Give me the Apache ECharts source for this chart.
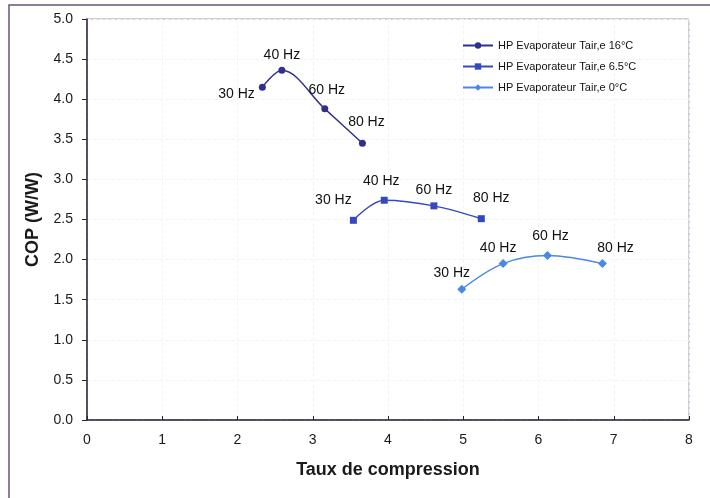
<!DOCTYPE html>
<html>
<head>
<meta charset="utf-8">
<script src="https://cdn.jsdelivr.net/npm/echarts@6/dist/echarts.min.js"></script>
<style>
  html, body { margin: 0; padding: 0; background: #fff; }
  #chart { width: 710px; height: 498px; }
</style>
</head>
<body>
<div id="chart"></div>
<script>
// données : taux de compression (x) / COP (y)
var seriesNames = ['HP Evaporateur Tair,e 16°C', 'HP Evaporateur Tair,e 6.5°C', 'HP Evaporateur Tair,e 0°C'];
var freqLabels = ['30 Hz', '40 Hz', '60 Hz', '80 Hz'];

var taux16 = [2.33, 2.59, 3.16, 3.66];
var cop16  = [4.15, 4.36, 3.88, 3.45];

var taux65 = [3.54, 3.95, 4.61, 5.24];
var cop65  = [2.49, 2.74, 2.67, 2.51];

var taux0 = [4.98, 5.53, 6.12, 6.85];
var cop0  = [1.63, 1.95, 2.05, 1.95];

// placement des étiquettes (style)
var labelOffsets = [
  [[-2, 7, 'left'], [0, 0, 'top'], [2, -3, 'top'], [4, -6, 'top']],
  [[-20, -5, 'top'], [-3, -4, 'top'], [0, 0, 'top'], [10, -5, 'top']],
  [[-10, 0, 'top'], [-5, 1, 'top'], [3, -3, 'top'], [13, 1, 'top']]
];
var colors = ['#30308f', '#3449c0', '#4a88e6'];
var symbols = ['circle', 'rect', 'diamond'];
var symbolSizes = [7, 7, 9];

function buildData (xs, ys, idx) {
  var out = [];
  for (var i = 0; i < xs.length; i++) {
    var o = labelOffsets[idx][i];
    out.push({
      value: [xs[i], ys[i]],
      label: {
        position: o[2],
        distance: o[2] == 'left' ? 2 : 5,
        offset: [o[0], o[1]],
        formatter: freqLabels[i]
      }
    });
  }
  return out;
}

var allX = [taux16, taux65, taux0];
var allY = [cop16, cop65, cop0];

var series = [];
for (var s = 0; s < 3; s++) {
  series.push({
    name: seriesNames[s],
    type: 'line',
    smooth: 0.35,
    data: buildData(allX[s], allY[s], s),
    symbol: symbols[s],
    symbolSize: symbolSizes[s],
    color: colors[s],
    lineStyle: { width: 1.5, color: colors[s] },
    itemStyle: { color: colors[s] },
    label: {
      show: true,
      color: '#111',
      fontFamily: 'Liberation Sans, Arial, sans-serif',
      fontSize: 14
    }
  });
}

var myChart = echarts.init(document.getElementById('chart'));
var option = {
  animation: false,
  backgroundColor: '#fff',
  grid: {
    left: 87, right: 21, top: 19, bottom: 78,
    show: true,
    borderColor: '#a898b0',
    borderWidth: 1
  },
  graphic: [{
    type: 'rect',
    shape: { x: 9, y: 5, width: 720, height: 520 },
    style: { fill: 'none', stroke: '#6a5478', lineWidth: 1.5 },
    silent: true
  }],
  legend: {
    orient: 'vertical',
    left: 457,
    top: 35,
    itemWidth: 30,
    itemHeight: 8,
    itemGap: 10,
    data: seriesNames,
    textStyle: {
      color: '#111',
      fontSize: 11,
      fontFamily: 'Liberation Sans, Arial, sans-serif'
    }
  },
  xAxis: {
    type: 'value',
    min: 0, max: 8, interval: 1,
    name: 'Taux de compression',
    nameLocation: 'middle',
    nameGap: 41,
    nameTextStyle: {
      color: '#1a1a1a',
      fontSize: 18,
      fontWeight: 'bold',
      fontFamily: 'Liberation Sans, Arial, sans-serif'
    },
    axisLine: { show: true, onZero: false, lineStyle: { color: '#2a2030', width: 1.5 } },
    axisTick: { show: true, inside: true, length: 4, lineStyle: { color: '#2a2030' } },
    axisLabel: {
      color: '#1a1a1a', fontSize: 14, margin: 13,
      fontFamily: 'Liberation Sans, Arial, sans-serif'
    },
    splitLine: { show: true, lineStyle: { color: '#f4f4f4', type: 'dashed' } }
  },
  yAxis: {
    type: 'value',
    min: 0, max: 5, interval: 0.5,
    name: 'COP (W/W)',
    nameLocation: 'middle',
    nameGap: 45,
    nameTextStyle: {
      color: '#1a1a1a',
      fontSize: 18,
      fontWeight: 'bold',
      fontFamily: 'Liberation Sans, Arial, sans-serif'
    },
    axisLine: { show: true, onZero: false, lineStyle: { color: '#2a2030', width: 1.5 } },
    axisTick: { show: true, length: 5, lineStyle: { color: '#2a2030' } },
    axisLabel: {
      color: '#1a1a1a', fontSize: 14, margin: 14,
      fontFamily: 'Liberation Sans, Arial, sans-serif',
      formatter: function (v) { return v.toFixed(1); }
    },
    splitLine: { show: true, lineStyle: { color: '#f4f4f4', type: 'dashed' } }
  },
  series: series
};
myChart.setOption(option);
</script>
</body>
</html>
